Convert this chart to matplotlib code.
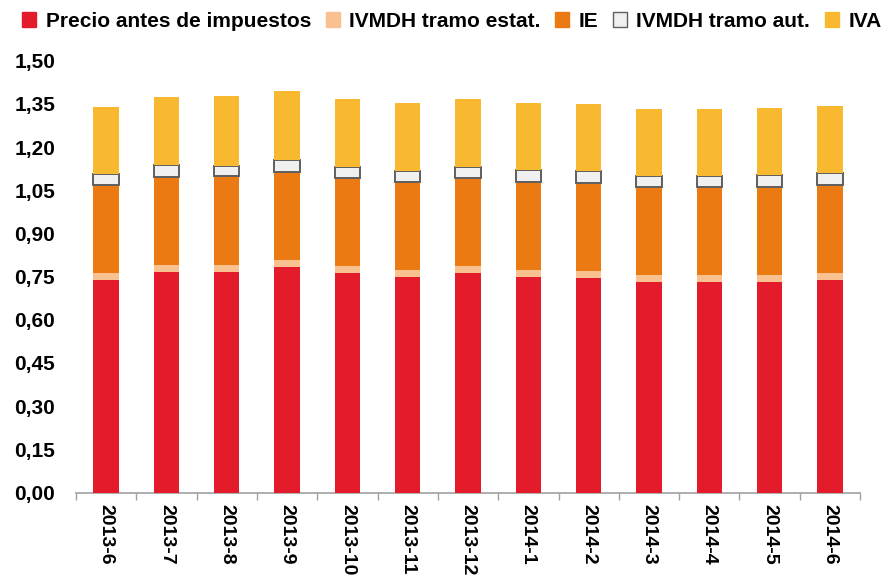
import matplotlib
matplotlib.use("Agg")
import matplotlib.pyplot as plt
from matplotlib.patches import Patch
from matplotlib.ticker import FixedLocator, FuncFormatter
import numpy as np

plt.rcParams["font.family"] = ["Liberation Sans", "DejaVu Sans"]
plt.rcParams["font.weight"] = "bold"

# ── Data (EUR/litre) ─────────────────────────────────────────────────
months = ["2013-6", "2013-7", "2013-8", "2013-9", "2013-10", "2013-11",
          "2013-12", "2014-1", "2014-2", "2014-3", "2014-4", "2014-5",
          "2014-6"]
precio = [0.738, 0.765, 0.767, 0.784, 0.762, 0.749, 0.762, 0.749, 0.745,
          0.731, 0.731, 0.731, 0.738]
ivmdh_estat = [0.024] * 13
ie = [0.307] * 13
ivmdh_aut = [0.038, 0.040, 0.037, 0.041, 0.039, 0.038, 0.039, 0.041, 0.041,
             0.039, 0.039, 0.042, 0.040]
iva = [0.233, 0.239, 0.243, 0.240, 0.236, 0.236, 0.236, 0.233, 0.234,
       0.232, 0.232, 0.233, 0.232]

series = [
    ("Precio antes de impuestos", precio, "#e31b2b", "none"),
    ("IVMDH tramo estat.", ivmdh_estat, "#f9c190", "none"),
    ("IE", ie, "#ec7a12", "none"),
    ("IVMDH tramo aut.", ivmdh_aut, "#f0f0f0", "#5f5f5f"),
    ("IVA", iva, "#f8b930", "none"),
]

fig = plt.figure(figsize=(8.91, 5.77), dpi=100)
ax = fig.add_axes([0.0853, 0.1464, 0.880, 0.7484])

x = np.arange(len(months))
bottom = np.zeros(len(months))
handles = []
for label, vals, color, edge in series:
    lw = 1.4 if edge != "none" else 0
    ax.bar(x, vals, width=0.42, bottom=bottom, color=color,
           edgecolor=edge, linewidth=lw, zorder=3)
    bottom += np.array(vals)
    handles.append(Patch(facecolor=color,
                         edgecolor=edge if edge != "none" else color,
                         linewidth=1.0, label=label))

ax.set_xlim(-0.5, len(months) - 0.5)
ax.set_ylim(0, 1.5)
ax.set_yticks(np.arange(0, 1.51, 0.15))
ax.yaxis.set_major_formatter(FuncFormatter(lambda v, p: f"{v:.2f}".replace(".", ",")))
ax.tick_params(axis="y", length=0, labelsize=15, pad=15)

ax.set_xticks(x)
ax.set_xticklabels(months, rotation=270, fontsize=14, fontweight="bold")
ax.tick_params(axis="x", which="major", length=0, pad=8)
ax.xaxis.set_minor_locator(FixedLocator(np.arange(-0.5, len(months), 1)))
ax.tick_params(axis="x", which="minor", length=5, color="#a0a0a0", width=1)

for s in ["top", "right", "left"]:
    ax.spines[s].set_visible(False)
ax.spines["bottom"].set_color("#a0a0a0")
ax.spines["bottom"].set_linewidth(1.2)

fig.legend(handles=handles, loc="center", bbox_to_anchor=(0.507, 0.963),
           ncol=5, frameon=False, fontsize=15, handlelength=0.68,
           handleheight=0.68, handletextpad=0.45, columnspacing=0.7,
           borderaxespad=0, borderpad=0)

fig.savefig("out.png", dpi=100, facecolor="white")
plt.close(fig)
